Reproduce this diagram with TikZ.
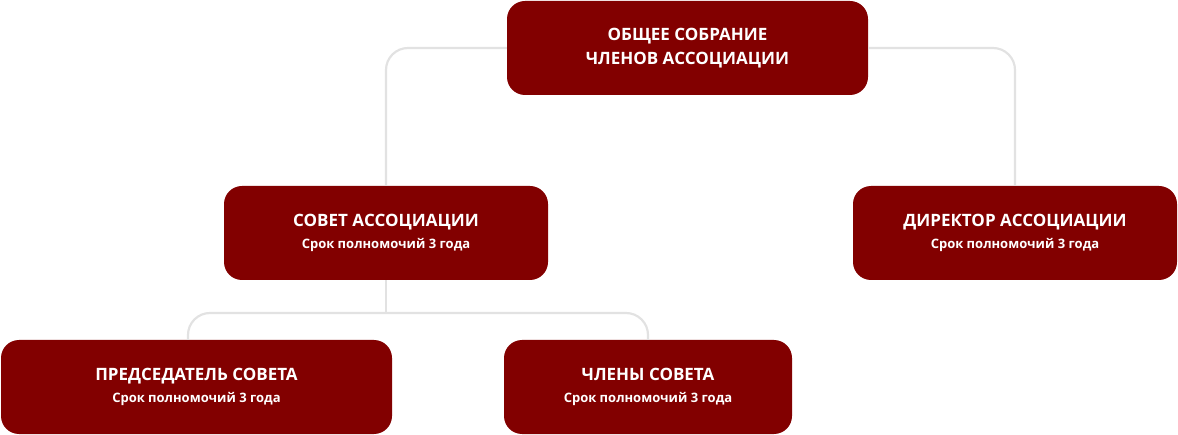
\documentclass[tikz,border=0pt]{standalone}
\usepackage{fontspec}
\setmainfont{Open Sans}
\usepackage{tikz}
\definecolor{boxred}{HTML}{820000}
\definecolor{linegray}{HTML}{E2E2E2}

\begin{document}
\begin{tikzpicture}[x=1pt,y=-1pt,
  main box/.style={fill=boxred,rounded corners=18pt,text=white,align=center,
    font=\fontsize{17}{24}\selectfont\bfseries,inner sep=0pt},
  link/.style={draw=linegray,line width=2.2pt,rounded corners=22pt}]

  \useasboundingbox (0,0) rectangle (1178,435);

  \node[main box,minimum width=361pt,minimum height=94pt] (sobranie) at (687.5,48)
    {ОБЩЕЕ СОБРАНИЕ\\ЧЛЕНОВ АССОЦИАЦИИ};
  \node[main box,minimum width=324pt,minimum height=94pt] (sovet) at (386,233)
    {СОВЕТ АССОЦИАЦИИ\\[-2pt]{\fontsize{13}{16}\selectfont Срок полномочий 3 года}};
  \node[main box,minimum width=324pt,minimum height=94pt] (direktor) at (1015,233)
    {ДИРЕКТОР АССОЦИАЦИИ\\[-2pt]{\fontsize{13}{16}\selectfont Срок полномочий 3 года}};
  \node[main box,minimum width=391pt,minimum height=94pt] (predsedatel) at (196.5,387)
    {ПРЕДСЕДАТЕЛЬ СОВЕТА\\[-2pt]{\fontsize{13}{16}\selectfont Срок полномочий 3 года}};
  \node[main box,minimum width=288pt,minimum height=94pt] (chleny) at (648,387)
    {ЧЛЕНЫ СОВЕТА\\[-2pt]{\fontsize{13}{16}\selectfont Срок полномочий 3 года}};

  \coordinate (razvilka) at (386,313);
  \coordinate (levo) at (188,340);

  \begin{scope}[on background layer/.style={}]
    \draw[link] (sobranie.west) -| (sovet.north);
    \draw[link] (sobranie.east) -| (direktor.north);
    \draw[link] (sovet.south) -- (razvilka);
    \draw[link] (levo) |- (razvilka) -| (chleny.north);
  \end{scope}
\end{tikzpicture}
\end{document}
